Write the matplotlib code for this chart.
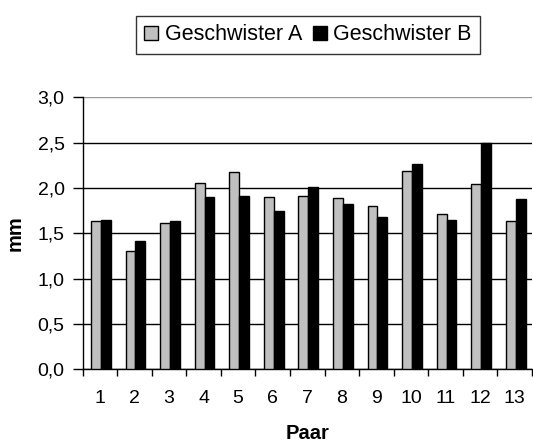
import numpy as np
import matplotlib.pyplot as plt

plt.rcParams['font.family'] = ['Liberation Sans', 'DejaVu Sans']

paare = [str(i) for i in range(1, 14)]
geschwister_a = [1.63, 1.30, 1.61, 2.05, 2.17, 1.90, 1.91, 1.89, 1.80, 2.19, 1.71, 2.04, 1.63]
geschwister_b = [1.65, 1.41, 1.63, 1.90, 1.91, 1.75, 2.01, 1.82, 1.68, 2.26, 1.65, 2.50, 1.88]
yticks = [0.0, 0.5, 1.0, 1.5, 2.0, 2.5, 3.0]
ytick_labels = ['0,0', '0,5', '1,0', '1,5', '2,0', '2,5', '3,0']

fig = plt.figure(figsize=(5.33, 4.48), dpi=100)
ax = fig.add_axes([0.155, 0.176, 0.843, 0.607])

x = np.arange(1, len(paare) + 1)
w = 0.285
ax.bar(x - w / 2 + 0.03, geschwister_a, width=w, color='#c0c0c0', edgecolor='black',
       linewidth=1, label='Geschwister A', zorder=3)
ax.bar(x + w / 2 + 0.03, geschwister_b, width=w, color='black', edgecolor='black',
       linewidth=1, label='Geschwister B', zorder=3)

ax.set_xlim(0.5, len(paare) + 0.5)
ax.set_ylim(0, 3.0)

# category boundaries as ticks, labels in the middle
ax.set_xticks(np.arange(0.5, len(paare) + 1, 1.0))
ax.set_xticklabels([])
ax.set_xticks(x, minor=True)
ax.set_xticklabels(paare, minor=True)
ax.tick_params(axis='x', which='major', direction='out', length=5, width=1)
ax.tick_params(axis='x', which='minor', length=0, pad=15, labelsize=14)

ax.set_yticks(yticks)
ax.set_yticklabels(ytick_labels)
ax.tick_params(axis='y', direction='out', length=7, width=1, pad=6, labelsize=14)

ax.yaxis.grid(True, color='black', linewidth=1, zorder=0)
ax.set_axisbelow(True)
ax.get_ygridlines()[-1].set_color('#999999')

ax.spines['right'].set_visible(False)
ax.spines['top'].set_visible(False)
ax.spines['left'].set_linewidth(1)
ax.spines['bottom'].set_linewidth(1)

ax.set_xlabel('Paar', fontsize=14.5, fontweight='bold', labelpad=12)
ax.set_ylabel('mm', fontsize=14.5, fontweight='bold', labelpad=9)

fig.legend(loc='center', bbox_to_anchor=(0.578, 0.922), ncol=2, frameon=True,
           fancybox=False, edgecolor='black', fontsize=15.5, handlelength=0.65,
           handleheight=0.65, handletextpad=0.3, columnspacing=0.5,
           borderpad=0.4, borderaxespad=0)

fig.savefig('out.png', dpi=100)
